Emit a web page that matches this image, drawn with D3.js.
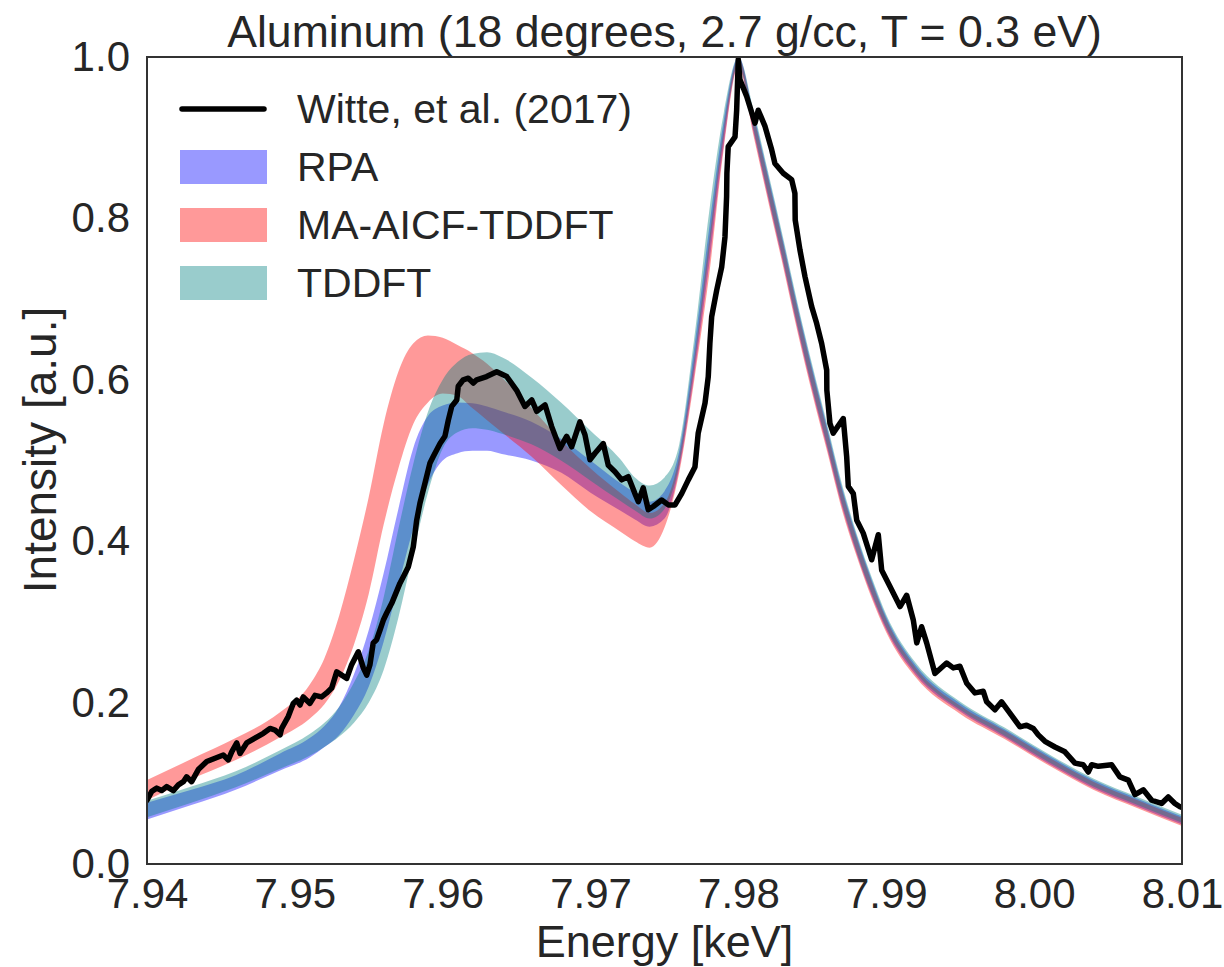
<!DOCTYPE html>
<html lang="en">
<head>
    <meta charset="UTF-8">
    <title>Aluminum XRTS</title>
    <style>
        body { margin: 0; background: #fff; }
        svg text { font-family: "Liberation Sans", Arial, sans-serif; fill: #262626; }
    </style>
</head>
<body>
    <svg id="chart" width="1224" height="967"></svg>
    <script src="https://cdnjs.cloudflare.com/ajax/libs/d3/7.8.5/d3.min.js"></script>
    <script>
        // tick labels
        var xTicks = [7.94, 7.95, 7.96, 7.97, 7.98, 7.99, 8.00, 8.01]
        var yTicks = [0.0, 0.2, 0.4, 0.6, 0.8, 1.0]

        // model bands (lower / upper edge)
        var bandE = [7.940, 7.943, 7.946, 7.949, 7.951, 7.952, 7.953, 7.954, 7.955, 7.956,
                     7.957, 7.958, 7.959, 7.960, 7.961, 7.962, 7.963, 7.964, 7.966, 7.968,
                     7.970, 7.972, 7.973, 7.974, 7.975, 7.976, 7.977, 7.978, 7.979, 7.980,
                     7.981, 7.982, 7.983, 7.984, 7.985, 7.986, 7.987, 7.988, 7.989, 7.990,
                     7.992, 7.995, 7.998, 8.001, 8.004, 8.007, 8.010]
        var rpaLo = [0.055, 0.073, 0.092, 0.116, 0.132, 0.145, 0.160, 0.185, 0.220, 0.275,
                     0.345, 0.415, 0.470, 0.500, 0.509, 0.512, 0.512, 0.508, 0.500, 0.485,
                     0.460, 0.438, 0.427, 0.418, 0.428, 0.490, 0.605, 0.740, 0.890, 0.990,
                     0.908, 0.826, 0.746, 0.663, 0.586, 0.515, 0.443, 0.384, 0.333, 0.290,
                     0.234, 0.189, 0.157, 0.124, 0.094, 0.071, 0.049]
        var rpaHi = [0.076, 0.092, 0.110, 0.137, 0.156, 0.171, 0.195, 0.235, 0.290, 0.360,
                     0.440, 0.515, 0.555, 0.568, 0.572, 0.571, 0.567, 0.561, 0.548, 0.527,
                     0.500, 0.472, 0.460, 0.449, 0.462, 0.512, 0.638, 0.785, 0.920, 1.000,
                     0.932, 0.854, 0.774, 0.691, 0.614, 0.541, 0.467, 0.406, 0.353, 0.306,
                     0.246, 0.199, 0.167, 0.134, 0.104, 0.081, 0.059]
        var maLo  = [0.079, 0.105, 0.129, 0.157, 0.180, 0.198, 0.227, 0.272, 0.335, 0.420,
                     0.490, 0.545, 0.572, 0.583, 0.580, 0.565, 0.550, 0.535, 0.505, 0.470,
                     0.437, 0.412, 0.400, 0.392, 0.417, 0.485, 0.598, 0.727, 0.885, 0.988,
                     0.904, 0.822, 0.742, 0.659, 0.582, 0.511, 0.439, 0.381, 0.330, 0.287,
                     0.231, 0.186, 0.155, 0.122, 0.092, 0.069, 0.047]
        var maHi  = [0.104, 0.130, 0.156, 0.188, 0.222, 0.255, 0.308, 0.377, 0.455, 0.545,
                     0.610, 0.645, 0.655, 0.652, 0.643, 0.633, 0.620, 0.603, 0.565, 0.525,
                     0.490, 0.460, 0.446, 0.435, 0.447, 0.505, 0.625, 0.770, 0.910, 0.998,
                     0.928, 0.850, 0.770, 0.687, 0.610, 0.537, 0.463, 0.403, 0.350, 0.303,
                     0.243, 0.196, 0.165, 0.132, 0.102, 0.079, 0.057]
        var tdLo  = [0.058, 0.076, 0.095, 0.118, 0.134, 0.145, 0.158, 0.175, 0.200, 0.240,
                     0.305, 0.385, 0.460, 0.515, 0.535, 0.540, 0.538, 0.533, 0.520, 0.500,
                     0.475, 0.450, 0.438, 0.428, 0.440, 0.495, 0.615, 0.755, 0.900, 0.990,
                     0.912, 0.830, 0.750, 0.667, 0.590, 0.519, 0.447, 0.387, 0.336, 0.293,
                     0.237, 0.191, 0.159, 0.126, 0.096, 0.073, 0.051]
        var tdHi  = [0.0785, 0.096, 0.115, 0.141, 0.161, 0.175, 0.195, 0.225, 0.265, 0.330,
                     0.415, 0.495, 0.560, 0.600, 0.622, 0.632, 0.634, 0.628, 0.603, 0.572,
                     0.537, 0.502, 0.479, 0.469, 0.479, 0.520, 0.650, 0.805, 0.930, 1.000,
                     0.936, 0.858, 0.778, 0.695, 0.618, 0.545, 0.471, 0.409, 0.356, 0.309,
                     0.249, 0.201, 0.169, 0.136, 0.106, 0.083, 0.061]

        // Witte et al. (2017) measured spectrum
        var expE = [7.94000, 7.94032, 7.94066, 7.94099, 7.94133, 7.94178, 7.94212, 7.94246, 7.94268, 7.94302,
                    7.94347, 7.94404, 7.94460, 7.94516, 7.94550, 7.94573, 7.94607, 7.94629, 7.94674, 7.94730,
                    7.94787, 7.94832, 7.94866, 7.94900, 7.94911, 7.94956, 7.94989, 7.95012, 7.95035, 7.95057,
                    7.95102, 7.95136, 7.95181, 7.95215, 7.95249, 7.95283, 7.95317, 7.95351, 7.95384, 7.95429,
                    7.95463, 7.95486, 7.95508, 7.95530, 7.95553, 7.95576, 7.95598, 7.95621, 7.95655, 7.95711,
                    7.95767, 7.95801, 7.95824, 7.95846, 7.95880, 7.95914, 7.95936, 7.95982, 7.96015, 7.96038,
                    7.96061, 7.96095, 7.96105, 7.96139, 7.96173, 7.96207, 7.96230, 7.96297, 7.96365, 7.96433,
                    7.96500, 7.96556, 7.96602, 7.96636, 7.96692, 7.96737, 7.96793, 7.96838, 7.96872, 7.96928,
                    7.96962, 7.96996, 7.97030, 7.97086, 7.97120, 7.97165, 7.97210, 7.97255, 7.97300, 7.97323,
                    7.97356, 7.97390, 7.97424, 7.97481, 7.97526, 7.97571, 7.97616, 7.97661, 7.97706, 7.97728,
                    7.97774, 7.97796, 7.97807, 7.97819, 7.97853, 7.97887, 7.97909, 7.97920, 7.97922, 7.97931,
                    7.97977, 7.97988, 7.97999, 7.98010, 7.98056, 7.98112, 7.98134, 7.98180, 7.98225, 7.98247,
                    7.98303, 7.98360, 7.98382, 7.98384, 7.98416, 7.98450, 7.98495, 7.98529, 7.98563, 7.98597,
                    7.98598, 7.98619, 7.98641, 7.98709, 7.98732, 7.98743, 7.98777, 7.98800, 7.98844, 7.98901,
                    7.98946, 7.98969, 7.99025, 7.99093, 7.99138, 7.99183, 7.99206, 7.99239, 7.99273, 7.99329,
                    7.99408, 7.99453, 7.99498, 7.99544, 7.99600, 7.99656, 7.99679, 7.99735, 7.99780, 7.99836,
                    7.99904, 7.99949, 7.99994, 8.00028, 8.00073, 8.00141, 8.00208, 8.00276, 8.00332, 8.00366,
                    8.00389, 8.00434, 8.00524, 8.00580, 8.00637, 8.00682, 8.00738, 8.00795, 8.00862, 8.00907,
                    8.00952, 8.00986, 8.01000]
        var expI = [0.079, 0.090, 0.094, 0.091, 0.096, 0.091, 0.098, 0.102, 0.108, 0.102,
                    0.117, 0.127, 0.131, 0.135, 0.129, 0.139, 0.150, 0.137, 0.150, 0.156,
                    0.162, 0.168, 0.166, 0.160, 0.168, 0.183, 0.199, 0.203, 0.197, 0.207,
                    0.199, 0.209, 0.207, 0.212, 0.218, 0.238, 0.234, 0.230, 0.247, 0.263,
                    0.243, 0.234, 0.247, 0.274, 0.278, 0.290, 0.302, 0.311, 0.323, 0.348,
                    0.368, 0.393, 0.426, 0.447, 0.472, 0.497, 0.505, 0.521, 0.530, 0.550,
                    0.567, 0.575, 0.592, 0.600, 0.602, 0.596, 0.600, 0.604, 0.610, 0.604,
                    0.587, 0.567, 0.575, 0.561, 0.569, 0.542, 0.515, 0.530, 0.517, 0.548,
                    0.532, 0.501, 0.509, 0.521, 0.494, 0.486, 0.476, 0.480, 0.459, 0.449,
                    0.466, 0.439, 0.443, 0.451, 0.445, 0.445, 0.459, 0.476, 0.492, 0.534,
                    0.571, 0.604, 0.645, 0.678, 0.711, 0.740, 0.777, 0.827, 0.856, 0.889,
                    0.901, 0.934, 0.997, 0.972, 0.951, 0.918, 0.934, 0.914, 0.885, 0.868,
                    0.856, 0.848, 0.831, 0.798, 0.761, 0.728, 0.691, 0.670, 0.645, 0.612,
                    0.587, 0.546, 0.534, 0.552, 0.505, 0.468, 0.459, 0.426, 0.410, 0.377,
                    0.408, 0.364, 0.344, 0.319, 0.333, 0.302, 0.274, 0.294, 0.274, 0.236,
                    0.249, 0.243, 0.245, 0.224, 0.212, 0.214, 0.201, 0.191, 0.201, 0.187,
                    0.170, 0.172, 0.168, 0.160, 0.152, 0.145, 0.139, 0.125, 0.123, 0.114,
                    0.123, 0.121, 0.123, 0.108, 0.104, 0.086, 0.092, 0.079, 0.075, 0.083,
                    0.075, 0.071, 0.070]

        var bands = [
            {name: 'RPA', lo: rpaLo, hi: rpaHi, color: 'rgb(0,0,255)'},
            {name: 'MA-AICF-TDDFT', lo: maLo, hi: maHi, color: 'rgb(255,0,0)'},
            {name: 'TDDFT', lo: tdLo, hi: tdHi, color: 'rgb(0,128,128)'}
        ]

        // plot box in pixels
        var plotL = 147, plotR = 1182, plotT = 57, plotB = 864
        var svg = d3.select('#chart')

        var x = d3.scaleLinear().domain([7.94, 8.01]).range([plotL, plotR])
        var y = d3.scaleLinear().domain([0, 1]).range([plotB, plotT])

        svg.append('clipPath').attr('id', 'clip')
            .append('rect')
            .attr('x', plotL).attr('y', plotT)
            .attr('width', plotR - plotL).attr('height', plotB - plotT)

        var plot = svg.append('g').attr('clip-path', 'url(#clip)')

        // bands
        bands.forEach(function (b) {
            var area = d3.area()
                .curve(d3.curveMonotoneX)
                .x(function (d, i) { return x(bandE[i]) })
                .y0(function (d, i) { return y(b.lo[i]) })
                .y1(function (d, i) { return y(b.hi[i]) })
            plot.append('path')
                .datum(bandE)
                .attr('d', area)
                .attr('fill', b.color)
                .attr('fill-opacity', 0.4)
                .attr('stroke', 'none')
        })

        // measured line
        var line = d3.line()
            .x(function (d, i) { return x(expE[i]) })
            .y(function (d, i) { return y(expI[i]) })
        plot.append('path')
            .datum(expE)
            .attr('d', line)
            .attr('fill', 'none')
            .attr('stroke', '#000')
            .attr('stroke-width', 5.5)
            .attr('stroke-linejoin', 'round')
            .attr('stroke-linecap', 'round')

        // frame
        svg.append('rect')
            .attr('x', plotL).attr('y', plotT)
            .attr('width', plotR - plotL).attr('height', plotB - plotT)
            .attr('fill', 'none')
            .attr('stroke', '#333')
            .attr('stroke-width', 2)

        // axes
        svg.append('g')
            .attr('transform', 'translate(0,' + plotB + ')')
            .call(d3.axisBottom(x).tickValues(xTicks).tickFormat(d3.format('.2f')).tickSize(0).tickPadding(14))
        svg.append('g')
            .attr('transform', 'translate(' + plotL + ',0)')
            .call(d3.axisLeft(y).tickValues(yTicks).tickFormat(d3.format('.1f')).tickSize(0).tickPadding(17))
        svg.selectAll('.domain').remove()
        svg.selectAll('.tick text')
            .attr('font-size', 42)
            .attr('font-family', '"Liberation Sans", Arial, sans-serif')
            .attr('fill', '#262626')

        // labels
        svg.append('text')
            .attr('x', (plotL + plotR) / 2).attr('y', 47)
            .attr('text-anchor', 'middle')
            .attr('font-size', 44.6)
            .text('Aluminum (18 degrees, 2.7 g/cc, T = 0.3 eV)')
        svg.append('text')
            .attr('x', (plotL + plotR) / 2).attr('y', 957)
            .attr('text-anchor', 'middle')
            .attr('font-size', 45)
            .text('Energy [keV]')
        svg.append('text')
            .attr('transform', 'translate(56,450) rotate(-90)')
            .attr('text-anchor', 'middle')
            .attr('font-size', 46)
            .text('Intensity [a.u.]')

        // legend
        var legend = svg.append('g')
        var rowY = [109, 167, 225, 283]
        legend.append('line')
            .attr('x1', 182).attr('x2', 264)
            .attr('y1', rowY[0]).attr('y2', rowY[0])
            .attr('stroke', '#000').attr('stroke-width', 5.5)
            .attr('stroke-linecap', 'round')
        legend.append('text')
            .attr('x', 297).attr('y', rowY[0]).attr('dy', '0.35em')
            .attr('font-size', 41)
            .text('Witte, et al. (2017)')
        bands.forEach(function (b, i) {
            legend.append('rect')
                .attr('x', 180).attr('y', rowY[i + 1] - 17)
                .attr('width', 87).attr('height', 34)
                .attr('fill', b.color).attr('fill-opacity', 0.4)
            legend.append('text')
                .attr('x', 297).attr('y', rowY[i + 1]).attr('dy', '0.35em')
                .attr('font-size', 41)
                .text(b.name)
        })
    </script>
</body>
</html>
